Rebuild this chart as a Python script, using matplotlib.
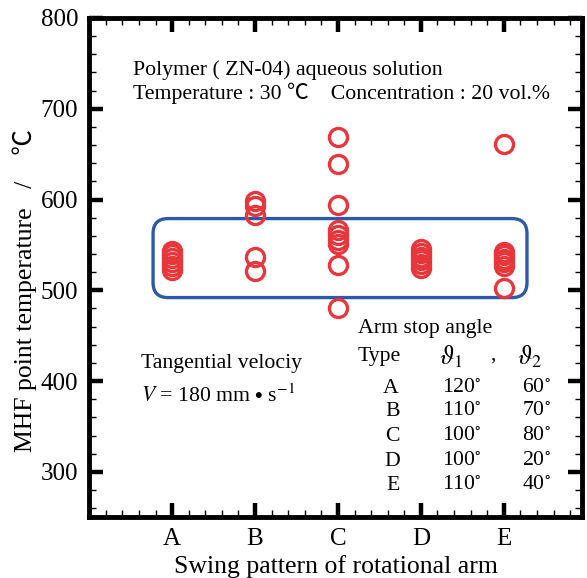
import numpy as np
import matplotlib
matplotlib.use("Agg")
import matplotlib.pyplot as plt
from matplotlib.patches import FancyBboxPatch
from matplotlib.ticker import MultipleLocator

plt.rcParams['font.family'] = ['Liberation Serif', 'Noto Sans CJK JP', 'DejaVu Sans']
plt.rcParams['mathtext.fontset'] = 'stix'

# data
patterns = ['A', 'B', 'C', 'D', 'E']
mhf_A = [543, 540, 536, 531, 527, 522]
mhf_B = [598, 593, 583, 537, 521]
mhf_C = [669, 639, 594, 566, 561, 555, 551, 528, 481]
mhf_D = [545, 541, 537, 533, 529, 525]
mhf_E = [661, 542, 539, 535, 531, 527, 502]
mhf_all = [mhf_A, mhf_B, mhf_C, mhf_D, mhf_E]

theta1 = [120, 110, 100, 100, 110]
theta2 = [60, 70, 80, 20, 40]

red = '#e8373c'
blue = '#2d5aa6'

fig = plt.figure(figsize=(5.87, 5.78), dpi=100)
ax = fig.add_axes([0.152, 0.105, 0.839, 0.864])

for i, vals in enumerate(mhf_all):
    ax.plot([i + 1] * len(vals), vals, 'o', ms=13, mfc='none', mec=red, mew=2.4, zorder=3)

# rounded box around the 500-580 band
box = FancyBboxPatch((0.77, 492), 4.51, 87, boxstyle='round,pad=0,rounding_size=0.18',
                     mutation_aspect=92, fill=False, ec=blue, lw=2.4, zorder=2)
ax.add_patch(box)

ax.set_xlim(0, 5.94)
ax.set_ylim(250, 800)
ax.set_xticks(range(1, 6))
ax.set_xticklabels(patterns)
ax.xaxis.set_minor_locator(MultipleLocator(0.2))
ax.set_yticks(range(300, 801, 100))
ax.yaxis.set_minor_locator(MultipleLocator(20))
ax.tick_params(which='both', direction='in', top=True, right=True, labelsize=18)
ax.tick_params(which='major', length=10, width=3.2, pad=8)
ax.tick_params(which='minor', length=5, width=1)
for s in ax.spines.values():
    s.set_linewidth(3.5)

ax.set_xlabel('Swing pattern of rotational arm', fontsize=18.5, labelpad=3)
ax.set_ylabel('MHF point temperature   /    ℃', fontsize=18.5)
ax.yaxis.set_label_coords(-0.106, 0.455)

fs = 15.7
ax.text(0.53, 743, 'Polymer ( ZN-04) aqueous solution', fontsize=fs, va='center')
ax.text(0.53, 717, 'Temperature : 30 ℃    Concentration : 20 vol.%', fontsize=fs, va='center')

ax.text(0.62, 419, 'Tangential velociy', fontsize=fs, va='center')
ax.text(0.62, 384, r'$V$ = 180 mm $\bullet$ s$^{-1}$', fontsize=fs, va='center')

ax.text(3.24, 458, 'Arm stop angle', fontsize=fs, va='center')
ax.text(3.24, 427, 'Type', fontsize=fs, va='center')
ax.text(4.36, 427, r'$\vartheta_1$', fontsize=fs + 3, va='center', ha='center')
ax.text(4.87, 429, ',', fontsize=fs, va='center', ha='center')
ax.text(5.31, 427, r'$\vartheta_2$', fontsize=fs + 3, va='center', ha='center')
row_y = [392, 366, 339, 311, 285]
for k in range(len(patterns)):
    ax.text(3.63 if k == 0 else 3.66, row_y[k], patterns[k], fontsize=fs, va='center', ha='center')
    ax.text(4.5, row_y[k], '%d$^{\\circ}$' % theta1[k], fontsize=fs, va='center', ha='center')
    ax.text(5.39, row_y[k], '%d$^{\\circ}$' % theta2[k], fontsize=fs, va='center', ha='center')

fig.savefig('out.png', dpi=100)
